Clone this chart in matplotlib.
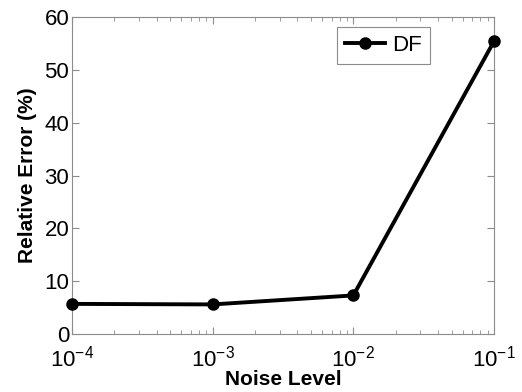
import matplotlib.pyplot as plt
from matplotlib.ticker import LogLocator, NullFormatter

plt.rcParams['font.family'] = ['Liberation Sans', 'DejaVu Sans']

# datos
noise = [1e-4, 1e-3, 1e-2, 1e-1]
error_df = [5.7, 5.6, 7.3, 55.4]

fig = plt.figure(figsize=(5.22, 3.92), dpi=100)
ax = fig.add_axes([72/522, 1 - 334/392, (494-72)/522, (334-17)/392])

ax.plot(noise, error_df, color='black', lw=2.8, marker='o', markersize=8,
        label='DF', clip_on=False, zorder=5)

ax.set_xscale('log')
ax.set_xlim(1e-4, 1e-1)
ax.set_ylim(0, 60)
ax.set_yticks(range(0, 61, 10))
ax.xaxis.set_minor_locator(LogLocator(base=10, subs=range(2, 10)))
ax.xaxis.set_minor_formatter(NullFormatter())

for s in ax.spines.values():
    s.set_color('#8c8c8c')
    s.set_linewidth(0.8)
ax.tick_params(which='both', direction='in', top=True, right=True, color='#8c8c8c',
               labelsize=16, labelcolor='black')
ax.tick_params(axis='y', pad=2)
ax.tick_params(axis='x', pad=8)
ax.tick_params(which='major', length=5)
ax.tick_params(which='minor', length=3)

ax.set_xlabel('Noise Level', fontsize=15, fontweight='bold', labelpad=-1)
ax.set_ylabel('Relative Error (%)', fontsize=15, fontweight='bold', labelpad=5)

leg = ax.legend(loc='upper right', bbox_to_anchor=(0.848, 0.97), fontsize=16,
                fancybox=False, handlelength=1.8, handletextpad=0.3,
                borderpad=0.38, borderaxespad=0, framealpha=1)
leg.get_frame().set_edgecolor('#8c8c8c')
leg.get_frame().set_linewidth(0.8)

fig.savefig('out.png', dpi=100)
